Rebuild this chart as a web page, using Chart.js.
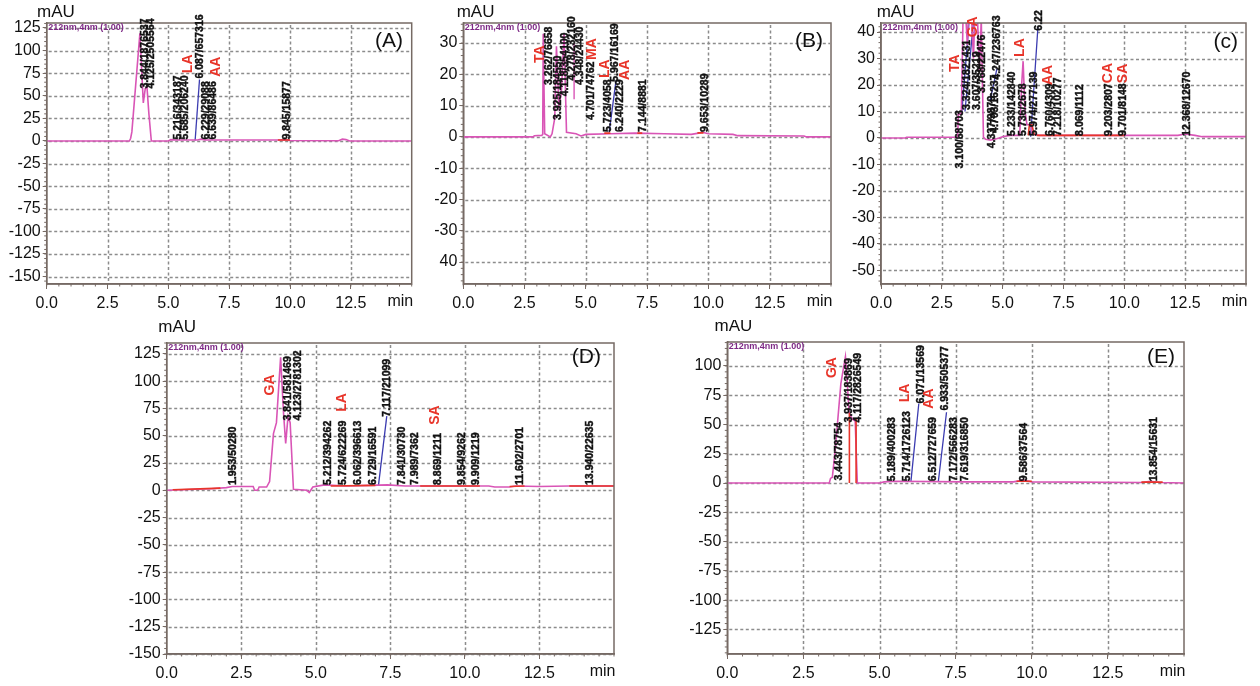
<!DOCTYPE html>
<html><head><meta charset="utf-8">
<script src="https://cdn.jsdelivr.net/npm/chart.js@4.4.1/dist/chart.umd.min.js"></script>
<style>
html,body{margin:0;padding:0;background:#fff;width:1260px;height:686px;overflow:hidden;}
.panel{position:absolute;}
canvas{display:block;}
</style></head><body>
<div class="panel" style="left:0px;top:0px"><canvas id="cA" width="420" height="310"></canvas></div>
<div class="panel" style="left:420px;top:0px"><canvas id="cB" width="420" height="310"></canvas></div>
<div class="panel" style="left:840px;top:0px"><canvas id="cC" width="420" height="310"></canvas></div>
<div class="panel" style="left:120px;top:320px"><canvas id="cD" width="500" height="366"></canvas></div>
<div class="panel" style="left:660px;top:320px"><canvas id="cE" width="540" height="366"></canvas></div>
<script>
// ---------------- DATA ----------------
const xTickValues = [0, 2.5, 5, 7.5, 10, 12.5];
const xTickLabels = ['0.0', '2.5', '5.0', '7.5', '10.0', '12.5'];

const yTicksA  = [125, 100, 75, 50, 25, 0, -25, -50, -75, -100, -125, -150];
const yLabelsA = ['125','100','75','50','25','0','-25','-50','-75','-100','-125','-150'];
const yTicksB  = [30, 20, 10, 0, -10, -20, -30, -40];
const yLabelsB = ['30','20','10','0','-10','-20','-30','40'];
const yTicksC  = [40, 30, 20, 10, 0, -10, -20, -30, -40, -50];
const yLabelsC = ['40','30','20','10','0','-10','-20','-30','-40','-50'];
const yTicksD  = [125, 100, 75, 50, 25, 0, -25, -50, -75, -100, -125, -150];
const yLabelsD = ['125','100','75','50','25','0','-25','-50','-75','-100','-125','-150'];
const yTicksE  = [100, 75, 50, 25, 0, -25, -50, -75, -100, -125];
const yLabelsE = ['100','75','50','25','0','-25','-50','-75','-100','-125'];

// Chromatogram traces (time in min, signal in mAU)
const timeA   = [0, 3.40, 3.45, 3.50, 3.83, 3.90, 3.97, 4.05, 4.12, 4.20, 4.30, 5.0, 5.1, 5.3, 6.2, 6.35, 6.5, 7.5, 9.6, 9.8, 10.0, 12.0, 12.15, 12.3, 12.45, 15];
const signalA = [0, 0, 3, 10, 119, 80, 42, 58, 60, 30, 0, 0, 1.5, 1, 1, 2, 1, 1, 1, 1.5, 0.5, 0.3, 2, 1.5, 0, 0];
const timeB   = [0, 2.85, 2.90, 3.20, 3.24, 3.26, 3.32, 3.55, 3.62, 3.73, 3.80, 3.90, 4.00, 4.11, 4.21, 4.60, 4.80, 5.00, 6.00, 7.00, 8.20, 9.30, 9.60, 9.75, 10.0, 11.0, 11.2, 13.9, 14.0, 15];
const signalB = [0, 0, 0.4, 0.5, 0.8, 33, 1, 0, 1, 6, 29, 10, 14, 33, 1.5, 1, 0.3, 0.8, 1, 1.2, 1, 0.8, 1.2, 1.5, 1, 0.8, 0.4, 0.3, 0, 0];
const timeC   = [0, 1.0, 1.05, 3.15, 3.18, 3.30, 3.40, 3.55, 3.65, 3.80, 3.90, 4.05, 4.12, 4.21, 4.30, 4.50, 4.75, 4.85, 5.0, 5.3, 5.70, 5.78, 5.84, 5.92, 6.00, 6.15, 6.22, 6.5, 8.0, 8.1, 8.3, 12.2, 12.5, 12.9, 13.2, 15];
const signalC = [0, 0, 0.3, 0.3, 9, 9, 60, 35, 60, 30, 60, 25, 45, 0.3, -0.5, -0.8, -0.3, 0, 0.5, 1, 1, 20, 29, 10, 5, 5, 1.5, 1, 1, 1.5, 1, 1, 1.5, 1, 0.5, 0.5];
const timeD   = [0, 0.5, 1.0, 1.5, 2.0, 2.2, 2.9, 2.95, 3.05, 3.10, 3.35, 3.45, 3.58, 3.68, 3.82, 3.92, 3.99, 4.07, 4.14, 4.25, 4.70, 4.78, 4.90, 5.20, 5.30, 6.00, 6.80, 7.40, 8.00, 10.8, 11.0, 11.5, 11.7, 12.5, 13.5, 15];
const signalD = [0, 0.5, 1, 1.5, 2.5, 3.5, 3.5, 0, 0, 3, 3, 8, 52, 62, 122, 70, 43, 68, 62, 1, 0, -2, 3, 4.5, 5, 4, 4.5, 5, 4, 4, 3, 3, 4, 3.5, 4, 4];
const timeE   = [0, 3.35, 3.39, 3.45, 3.55, 3.73, 3.88, 3.93, 4.00, 4.10, 4.20, 4.27, 5.0, 5.15, 5.5, 7.8, 9.4, 9.7, 10.0, 13.6, 13.9, 14.2, 15];
const signalE = [0, 0, 4, 5, 30, 85, 108, 90, 60, 55, 53, 0, 0, 1, 1.5, 1, 1, 2.5, 1, 0.5, 1.5, 0.5, 0];

// Integration marker lines (null separates segments)
const blueTimeA = [6.10, 6.28];            const blueSigA = [0.5, 68];
const blueTimeB = [5.95, 6.23];            const blueSigB = [1.5, 18];
const blueTimeC = [3.32, 3.62, null, 3.45, 3.80, null, 4.48, 4.76, null, 6.15, 6.45];
const blueSigC  = [9.5, 44, null, 10, 44, null, 14, 26, null, 0.5, 42];
const blueTimeD = [7.10, 7.38];            const blueSigD = [4, 68];
const blueTimeE = [6.03, 6.29, null, 6.93, 7.20];
const blueSigE  = [1, 68, null, 1, 60.5];

const redTimeA = [9.5, 10.0];              const redSigA = [1, 1];
const redTimeB = [5.75, 6.0, null, 7.1, 7.3, null, 9.55, 9.8];
const redSigB  = [1.2, 1.2, null, 1.2, 1.2, null, 1.3, 1.3];
const redTimeC = [6.05, 6.10, 6.20, 6.30, null, 6.4, 10.0];
const redSigC  = [1, 5, 5, 1.2, null, 1, 1];
const redTimeD = [0.2, 1.8, null, 5.5, 7.0, null, 8.5, 10.5, null, 11.5, 12.0, null, 13.5, 15];
const redSigD  = [0.5, 2, null, 4, 4.5, null, 4, 4, null, 3.5, 4, null, 4, 4];
const redTimeE = [4.01, 4.01, null, 4.23, 4.23, null, 9.5, 10.0, null, 13.6, 14.3];
const redSigE  = [0, 60, null, 0, 55, null, 1.5, 1.5, null, 0.8, 0.8];

const extraTimeB = [4.52, 4.52];           const extraSigB = [12, 30];

// Peak annotations: retention time / area (text starts at given signal, written upward)
const peakTimeA = [4.03, 4.28, 5.42, 5.70, 6.30, 6.55, 6.85, 9.86];
const peakBaseA = [58, 58, 1.5, 1.5, 69, 1.5, 1.5, 1.5];
const peakTextA = ['3.844/1876537','4.125/2505564','5.216/343187','5.685/206240','6.087/657316','6.229/29088','6.639/86486','9.845/15877'];
const compTimeA = [5.83, 6.95];  const compBaseA = [75, 71];  const compTextA = ['LA', 'AA'];

const peakTimeB = [3.49, 3.86, 4.15, 4.43, 4.78, 5.20, 5.91, 6.19, 6.39, 7.32, 9.86];
const peakBaseB = [16.6, 5.4, 13, 18, 16.6, 5.4, 1.6, 17.6, 1.6, 1.6, 1.6];
const peakTextB = ['3.262/76658','3.925/184550','4.118/354100','4.278/232160','4.348/24430','4.701/74762','5.723/4058','5.967/16169','6.240/2229','7.144/8881','9.653/10289'];
const compTimeB = [3.13, 5.24, 5.78, 6.59];  const compBaseB = [23.6, 24.6, 18.8, 18.2];  const compTextB = ['TA', 'MA', 'LA', 'AA'];

const peakTimeC = [3.25, 3.52, 3.94, 4.14, 4.55, 4.69, 4.76, 5.38, 5.85, 6.29, 6.50, 6.95, 7.29, 8.19, 9.39, 9.97, 12.58];
const peakBaseC = [-11.5, 10.6, 10.6, 17, -3.9, 1.9, 22, 0.8, 0.8, 0.8, 40.5, 0.8, 0.8, 0.8, 0.8, 0.8, 0.8];
const peakTextC = ['3.100/68703','3.324/1821431','3.607/35219','3.768/22476','4.337/9879','4.703/16237','4.247/236763','5.233/142840','5.736/2678','5.974/277139','6.22','6.760/4309','7.218/10277','8.069/1112','9.203/2807','9.701/8148','12.368/12670'];
const compTimeC = [3.04, 3.80, 5.72, 6.88, 9.35, 9.97];  const compBaseC = [24.9, 38, 30.6, 20, 20.7, 20.7];  const compTextC = ['TA', 'GA', 'LA', 'AA', 'CA', 'SA'];

const peakTimeD = [2.23, 4.06, 4.39, 5.42, 5.92, 6.43, 6.93, 7.38, 7.88, 8.33, 9.11, 9.89, 10.37, 11.85, 14.2];
const peakBaseD = [4.9, 64, 64, 4.9, 4.9, 4.9, 4.9, 67.5, 4.9, 4.9, 4.9, 4.9, 4.9, 4.9, 4.9];
const peakTextD = ['1.953/50280','3.841/581469','4.123/2781302','5.212/394262','5.724/622269','6.062/396613','6.729/16591','7.117/21099','7.841/30730','7.989/7362','8.869/1211','9.854/9262','9.909/1219','11.602/2701','13.940/22635'];
const compTimeD = [3.46, 5.90, 9.01];  const compBaseD = [87, 72, 60];  const compTextD = ['GA', 'LA', 'SA'];

const peakTimeE = [3.67, 4.01, 4.29, 5.41, 5.91, 6.36, 6.76, 7.15, 7.45, 7.82, 9.76, 14.01];
const peakBaseE = [2.2, 51.8, 51.8, 1.5, 1.5, 67.9, 1.5, 62, 1.5, 1.5, 1.5, 1.5];
const peakTextE = ['3.443/78754','3.937/183869','4.117/2826549','5.189/400283','5.714/1726123','6.071/13569','6.512/727659','6.933/505377','7.172/566283','7.619/316850','9.586/37564','13.854/15631'];
const compTimeE = [3.45, 5.84, 6.64];  const compBaseE = [89.7, 69, 63.5];  const compTextE = ['GA', 'LA', 'AA'];

// ---------------- STYLE / LAYOUT ----------------
const TRACE = '#d955b6', BLUE = '#3b3bb0', RED = '#e8352a', AXIS = '#766a64', GRID = '#8c8c8c';
const FONT = '"Liberation Sans", Arial, Helvetica, sans-serif';

const panels = [
  {id:'cA', letter:'(A)', W:420, H:310, left:46.7, right:8.3, top:23, bottom:284, yMin:-158.2, yMax:130.5, yMinor:5,
   yTicks:yTicksA, yLabels:yLabelsA, t:timeA, v:signalA, bt:blueTimeA, bv:blueSigA, rt:redTimeA, rv:redSigA,
   pt:peakTimeA, pb:peakBaseA, ptx:peakTextA, ct:compTimeA, cb:compBaseA, ctx:compTextA, mauDx:-9.7, mauDy:-10.5, letDx:8.7, letDy:18},
  {id:'cB', letter:'(B)', W:420, H:310, left:43.3, right:9, top:23, bottom:284, yMin:-47, yMax:36.4, yMinor:2,
   yTicks:yTicksB, yLabels:yLabelsB, t:timeB, v:signalB, bt:blueTimeB, bv:blueSigB, rt:redTimeB, rv:redSigB,
   et:extraTimeB, ev:extraSigB,
   pt:peakTimeB, pb:peakBaseB, ptx:peakTextB, ct:compTimeB, cb:compBaseB, ctx:compTextB, mauDx:-6.6, mauDy:-10.5, letDx:8, letDy:18},
  {id:'cC', letter:'(c)', W:420, H:310, left:41, right:14, top:23, bottom:284, yMin:-55.1, yMax:43.4, yMinor:2,
   yTicks:yTicksC, yLabels:yLabelsC, t:timeC, v:signalC, bt:blueTimeC, bv:blueSigC, rt:redTimeC, rv:redSigC,
   pt:peakTimeC, pb:peakBaseC, ptx:peakTextC, ct:compTimeC, cb:compBaseC, ctx:compTextC, mauDx:-4.3, mauDy:-10.5, letDx:8, letDy:19},
  {id:'cD', letter:'(D)', W:500, H:366, left:46.7, right:6, top:23, bottom:334, yMin:-150, yMax:135, yMinor:5,
   yTicks:yTicksD, yLabels:yLabelsD, t:timeD, v:signalD, bt:blueTimeD, bv:blueSigD, rt:redTimeD, rv:redSigD,
   pt:peakTimeD, pb:peakBaseD, ptx:peakTextD, ct:compTimeD, cb:compBaseD, ctx:compTextD, mauDx:-8.4, mauDy:-16, letDx:13, letDy:14},
  {id:'cE', letter:'(E)', W:540, H:366, left:67.3, right:16, top:22, bottom:334, yMin:-146, yMax:120.5, yMinor:5,
   yTicks:yTicksE, yLabels:yLabelsE, t:timeE, v:signalE, bt:blueTimeE, bv:blueSigE, rt:redTimeE, rv:redSigE,
   pt:peakTimeE, pb:peakBaseE, ptx:peakTextE, ct:compTimeE, cb:compBaseE, ctx:compTextE, mauDx:-12.7, mauDy:-15.2, letDx:9, letDy:15}
];

function toXY(ts, vs) {
  const out = []; let last = 0;
  for (let i = 0; i < ts.length; i++) {
    if (ts[i] === null || vs[i] === null) { out.push({x: last, y: null}); }
    else { out.push({x: ts[i], y: vs[i]}); last = ts[i]; }
  }
  return out;
}

function decoPlugin(P) {
  return {
    id: 'deco' + P.id,
    beforeDatasetsDraw(chart) {
      const {ctx, chartArea: a, scales: {x, y}} = chart;
      ctx.save();
      ctx.strokeStyle = GRID; ctx.lineWidth = 1.5; ctx.setLineDash([3, 2.5]);
      xTickValues.forEach(t => {
        const px = Math.round(x.getPixelForValue(t)) + 0.5;
        if (px <= a.left + 1) return;
        ctx.beginPath(); ctx.moveTo(px, a.top + 2); ctx.lineTo(px, a.bottom - 1); ctx.stroke();
      });
      P.yTicks.forEach(v => {
        const py = Math.round(y.getPixelForValue(v)) + 0.5;
        ctx.beginPath(); ctx.moveTo(a.left + 2, py); ctx.lineTo(a.right - 1, py); ctx.stroke();
      });
      ctx.restore();
    },
    afterDatasetsDraw(chart) {
      const {ctx, chartArea: a, scales: {x, y}} = chart;
      ctx.save();
      // frame
      ctx.strokeStyle = AXIS; ctx.lineWidth = 1.5;
      ctx.strokeRect(a.left, a.top, a.right - a.left, a.bottom - a.top);
      // minor ticks
      ctx.lineWidth = 1;
      for (let k = 0; k <= 30; k++) {
        const px = x.getPixelForValue(k * 0.5);
        ctx.beginPath(); ctx.moveTo(px, a.bottom); ctx.lineTo(px, a.bottom + 2.5); ctx.stroke();
      }
      const start = Math.ceil(P.yMin / P.yMinor);
      const end = Math.floor(P.yMax / P.yMinor);
      for (let k = start; k <= end; k++) {
        const py = y.getPixelForValue(k * P.yMinor);
        ctx.beginPath(); ctx.moveTo(a.left, py); ctx.lineTo(a.left - 2.5, py); ctx.stroke();
      }
      // instrument tag
      ctx.fillStyle = '#7e2a86'; ctx.font = 'bold 9px ' + FONT;
      ctx.textAlign = 'left'; ctx.textBaseline = 'middle';
      ctx.fillText('212nm,4nm (1.00)', a.left + 1.5, a.top + 5);
      // peak annotations
      ctx.fillStyle = '#111'; ctx.strokeStyle = '#111'; ctx.lineWidth = 0.45;
      ctx.font = 'bold 10.5px ' + FONT;
      P.pt.forEach((t, i) => {
        const px = x.getPixelForValue(t), py = y.getPixelForValue(P.pb[i]);
        ctx.save(); ctx.translate(px, py); ctx.rotate(-Math.PI / 2);
        ctx.fillText(P.ptx[i], 0, 0); ctx.strokeText(P.ptx[i], 0, 0); ctx.restore();
      });
      // compound labels
      ctx.fillStyle = RED; ctx.font = 'bold 14px ' + FONT;
      P.ct.forEach((t, i) => {
        const px = x.getPixelForValue(t), py = y.getPixelForValue(P.cb[i]);
        ctx.save(); ctx.translate(px, py); ctx.rotate(-Math.PI / 2);
        ctx.fillText(P.ctx[i], 0, 0); ctx.restore();
      });
      // panel letter
      ctx.fillStyle = '#111'; ctx.font = '21px ' + FONT;
      ctx.textAlign = 'right'; ctx.textBaseline = 'middle';
      ctx.fillText(P.letter, a.right - P.letDx, a.top + P.letDy);
      // axis titles
      ctx.font = '17px ' + FONT; ctx.textAlign = 'left';
      ctx.fillText('mAU', a.left + P.mauDx, a.top + P.mauDy);
      ctx.font = '16px ' + FONT; ctx.textAlign = 'right';
      ctx.fillText('min', a.right + 1.5, a.bottom + 18);
      ctx.restore();
    }
  };
}

function makeChart(P) {
  const lineDs = (ts, vs, color, w) => ({data: toXY(ts, vs), borderColor: color, borderWidth: w,
    pointRadius: 0, tension: 0, spanGaps: false, fill: false});
  const ds = [];
  if (P.rt) ds.push(lineDs(P.rt, P.rv, RED, 1.6));
  ds.push(lineDs(P.t, P.v, TRACE, 1.6));
  if (P.et) ds.push(lineDs(P.et, P.ev, TRACE, 1.4));
  if (P.bt) ds.push(lineDs(P.bt, P.bv, BLUE, 1.3));
  new Chart(document.getElementById(P.id), {
    type: 'line',
    data: {datasets: ds},
    options: {
      responsive: false, animation: false, devicePixelRatio: 1,
      layout: {padding: {top: P.top, right: P.right, left: 0, bottom: 0}},
      plugins: {legend: {display: false}, tooltip: {enabled: false}},
      scales: {
        x: {
          type: 'linear', min: 0, max: 15,
          afterFit: s => { s.height = P.H - P.bottom; },
          afterBuildTicks: s => { s.ticks = xTickValues.map(v => ({value: v})); },
          ticks: {callback: (v, i) => xTickLabels[i], autoSkip: false, maxRotation: 0,
                  font: {family: FONT, size: 16}, color: '#111', padding: 5},
          grid: {drawOnChartArea: false, tickColor: AXIS, tickLength: 5, drawTicks: true},
          border: {color: AXIS, width: 1.5}
        },
        y: {
          type: 'linear', min: P.yMin, max: P.yMax,
          afterFit: s => { s.width = P.left; },
          afterBuildTicks: s => { s.ticks = P.yTicks.map(v => ({value: v})); },
          ticks: {callback: (v, i) => P.yLabels[i], autoSkip: false,
                  font: {family: FONT, size: 16}, color: '#111', padding: 2},
          grid: {drawOnChartArea: false, tickColor: AXIS, tickLength: 4, drawTicks: true},
          border: {color: AXIS, width: 1.5}
        }
      }
    },
    plugins: [decoPlugin(P)]
  });
}

panels.forEach(makeChart);
</script>
</body></html>
